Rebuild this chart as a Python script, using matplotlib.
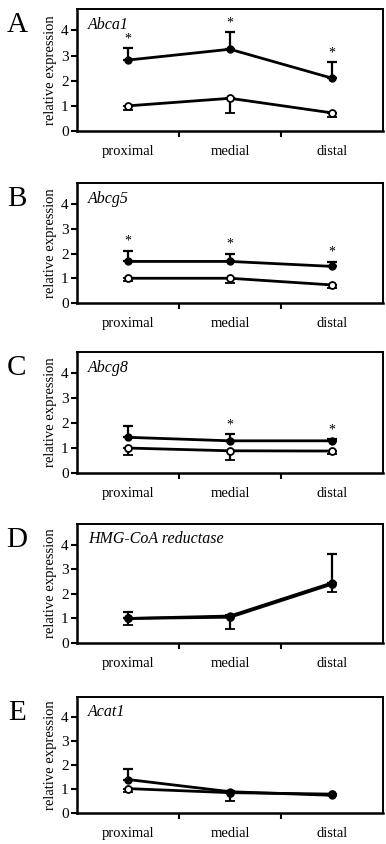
import numpy as np
import matplotlib
matplotlib.use('Agg')
import matplotlib.pyplot as plt

plt.rcParams['font.family'] = ['Liberation Serif', 'DejaVu Serif']

categories = ['proximal', 'medial', 'distal']
panels = ['A', 'B', 'C', 'D', 'E']
genes = ['Abca1', 'Abcg5', 'Abcg8', 'HMG-CoA reductase', 'Acat1']

# filled circles (upper error bars)
filled = [[2.82, 3.25, 2.10],
          [1.68, 1.68, 1.48],
          [1.43, 1.29, 1.29],
          [1.00, 1.10, 2.45],
          [1.40, 0.89, 0.74]]
filled_err = [[0.46, 0.68, 0.63],
              [0.44, 0.30, 0.19],
              [0.46, 0.27, 0.07],
              [0.28, 0.05, 1.19],
              [0.46, 0.04, 0.03]]

# open circles (lower error bars)
opened = [[1.00, 1.30, 0.72],
          [1.00, 1.00, 0.73],
          [1.00, 0.89, 0.88],
          [1.00, 1.05, 2.40],
          [1.02, 0.85, 0.79]]
opened_err = [[0.16, 0.60, 0.18],
              [0.13, 0.20, 0.13],
              [0.27, 0.38, 0.12],
              [0.28, 0.47, 0.32],
              [0.13, 0.36, 0.05]]

# significance markers over the filled series
stars = [[1, 1, 1],
         [1, 1, 1],
         [0, 1, 1],
         [0, 0, 0],
         [0, 0, 0]]

W, H = 386, 844
fig = plt.figure(figsize=(W / 100, H / 100), dpi=100)

# axes boxes in pixels: left, top, right, bottom
boxes = [[77, 9, 383, 131],
         [77, 183, 383, 303],
         [77, 352, 383, 473],
         [77, 524, 383, 643],
         [77, 697, 383, 813]]

x = np.arange(len(categories))

for i in range(len(panels)):
    l, t, r, b = boxes[i]
    ax = fig.add_axes([l / W, 1 - b / H, (r - l) / W, (b - t) / H])
    zero = np.zeros(3)

    ax.errorbar(x, opened[i], yerr=[opened_err[i], zero], color='black', lw=2,
                marker='o', ms=5, mfc='white', mec='black', mew=1.3,
                ecolor='black', elinewidth=1.6, capsize=3.5, capthick=1.6, zorder=3)
    ax.errorbar(x, filled[i], yerr=[zero, filled_err[i]], color='black', lw=2,
                marker='o', ms=5, mfc='black', mec='black',
                ecolor='black', elinewidth=1.6, capsize=3.5, capthick=1.6, zorder=4)

    for j in range(3):
        if stars[i][j]:
            ax.text(x[j], filled[i][j] + filled_err[i][j] + 0.12, '*',
                    ha='center', va='bottom', fontsize=10)

    ax.set_xlim(-0.5, 2.5)
    ax.set_ylim(0, 4.85)
    ax.set_yticks([0, 1, 2, 3, 4])
    ax.set_xticks([0.5, 1.5])
    ax.set_xticklabels([])
    ax.set_xticks(x, minor=True)
    ax.set_xticklabels(categories, minor=True, fontsize=10.5)
    ax.tick_params(axis='x', which='minor', length=0, pad=10)
    ax.tick_params(axis='x', which='major', direction='out', length=4, width=1.5)
    ax.tick_params(axis='y', direction='out', length=4, width=1.5, labelsize=11, pad=2)

    for s in ['left', 'bottom']:
        ax.spines[s].set_linewidth(1.8)
    for s in ['top', 'right']:
        ax.spines[s].set_linewidth(1.4)

    ax.set_ylabel('relative expression', fontsize=10.5, labelpad=3)
    ax.text(0.035, 0.87, genes[i], transform=ax.transAxes, fontsize=11.5,
            style='italic', va='center', ha='left')
    fig.text(17 / W, 1 - (t + 16) / H, panels[i], fontsize=21,
             ha='center', va='center')

fig.savefig('out.png', dpi=100)
